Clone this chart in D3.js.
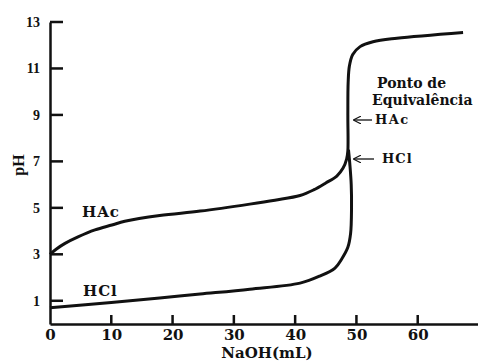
<!DOCTYPE html>
<html>
<head>
<meta charset="utf-8">
<script src="https://cdn.jsdelivr.net/npm/d3@7"></script>
<style>
  body { margin: 0; background: #fff; }
  svg { display: block; }
  text { fill: #111; }
</style>
</head>
<body>
<div id="chart"></div>
<script>
var W = 478, H = 361;

// titration curves
var volHAc = [0, 1, 2.45, 4.57, 7.34, 10.1, 12.2, 17.9, 24.5, 32.6, 36.7, 40.8, 43, 45, 46.8, 47.8, 48.4, 48.6, 48.6, 48.65, 48.85, 49.4, 50.6, 52.7, 56.6, 67.4];
var phHAc  = [3.0, 3.22, 3.47, 3.75, 4.05, 4.26, 4.42, 4.67, 4.86, 5.16, 5.33, 5.53, 5.77, 6.07, 6.37, 6.7, 7.1, 7.45, 9.0, 10.4, 11.1, 11.6, 11.94, 12.15, 12.3, 12.55];

var volHCl = [0, 10, 17.9, 24.5, 32.6, 40.8, 44, 46.5, 47.6, 48.6, 49.05, 49.2, 49.15, 48.95, 48.7];
var phHCl  = [0.7, 0.93, 1.12, 1.29, 1.5, 1.76, 2.06, 2.41, 2.8, 3.3, 3.9, 5.0, 6.0, 6.8, 7.5];

var xTicks = [0, 10, 20, 30, 40, 50, 60];
var yTicks = [1, 3, 5, 7, 9, 11, 13];

var x = d3.scaleLinear().domain([0, 70]).range([50, 479]);
var y = d3.scaleLinear().domain([0, 13]).range([324, 22]);

var svg = d3.select("#chart").append("svg")
    .attr("width", W)
    .attr("height", H);

// axes: labels from the axis generator, tick marks drawn inside separately
var yAxis = svg.append("g")
    .attr("transform", "translate(" + x(0) + ",0)")
    .call(d3.axisLeft(y).tickValues(yTicks).tickSize(0).tickPadding(10));
yAxis.select(".domain").attr("stroke", "#111").attr("stroke-width", 2.5);
yAxis.selectAll(".tick text")
    .attr("font-family", "Liberation Serif")
    .attr("font-weight", "bold")
    .attr("font-size", 14)
    .attr("fill", "#111");

var xAxis = svg.append("g")
    .attr("transform", "translate(0," + y(0) + ")")
    .call(d3.axisBottom(x).tickValues(xTicks).tickSize(0).tickPadding(5));
xAxis.select(".domain").attr("stroke", "#111").attr("stroke-width", 2.5);
xAxis.selectAll(".tick text")
    .attr("font-family", "DejaVu Serif")
    .attr("font-weight", "bold")
    .attr("font-size", 15)
    .attr("fill", "#111");

// tick marks pointing inside
svg.selectAll("rect.ytick").data(yTicks).enter().append("rect")
    .attr("class", "ytick")
    .attr("x", x(0))
    .attr("y", function(d) { return y(d) - 1.25; })
    .attr("width", 13)
    .attr("height", 2.5)
    .attr("fill", "#111");
svg.selectAll("rect.xtick").data(xTicks.slice(1)).enter().append("rect")
    .attr("class", "xtick")
    .attr("x", function(d) { return x(d) - 1.25; })
    .attr("y", y(0) - 9)
    .attr("width", 2.5)
    .attr("height", 9)
    .attr("fill", "#111");

svg.append("text")
    .attr("transform", "translate(24,165) rotate(-90)")
    .attr("text-anchor", "middle")
    .attr("font-family", "Liberation Serif")
    .attr("font-weight", "bold")
    .attr("font-size", 16)
    .text("pH");

svg.append("text")
    .attr("x", 267).attr("y", 358)
    .attr("text-anchor", "middle")
    .attr("font-family", "DejaVu Serif")
    .attr("font-weight", "bold")
    .attr("font-size", 15)
    .text("NaOH(mL)");

var line = d3.line()
    .x(function(d) { return x(d[0]); })
    .y(function(d) { return y(d[1]); })
    .curve(d3.curveCatmullRom.alpha(0.5));

svg.append("path")
    .datum(d3.zip(volHAc, phHAc))
    .attr("d", line)
    .attr("fill", "none")
    .attr("stroke", "#111")
    .attr("stroke-width", 3);

svg.append("path")
    .datum(d3.zip(volHCl, phHCl))
    .attr("d", line)
    .attr("fill", "none")
    .attr("stroke", "#111")
    .attr("stroke-width", 3);

// curve labels
function label(txt, px, py, size, spacing) {
    return svg.append("text")
        .attr("x", px).attr("y", py)
        .attr("font-family", "DejaVu Serif")
        .attr("font-weight", "bold")
        .attr("font-size", size)
        .attr("letter-spacing", spacing || 0)
        .text(txt);
}
label("HAc", 82, 217, 15, 1);
label("HCl", 83, 296, 15, 1);
label("Ponto de", 377, 88, 14);
label("Equivalência", 372, 105, 14);
label("HAc", 375, 124, 13, 1.5);
label("HCl", 382, 163, 13, 1);

// arrows to the equivalence point
svg.append("defs").append("marker")
    .attr("id", "head")
    .attr("viewBox", "0 0 10 10")
    .attr("refX", 9).attr("refY", 5)
    .attr("markerWidth", 6).attr("markerHeight", 6)
    .attr("orient", "auto")
    .append("path")
    .attr("d", "M0,0 L10,5 L0,10")
    .attr("fill", "none")
    .attr("stroke", "#111")
    .attr("stroke-width", 1.5);

[[372, 120], [374, 159]].forEach(function(a) {
    svg.append("line")
        .attr("x1", a[0]).attr("y1", a[1])
        .attr("x2", 354).attr("y2", a[1])
        .attr("stroke", "#111")
        .attr("stroke-width", 1.3)
        .attr("marker-end", "url(#head)");
});
</script>
</body>
</html>
